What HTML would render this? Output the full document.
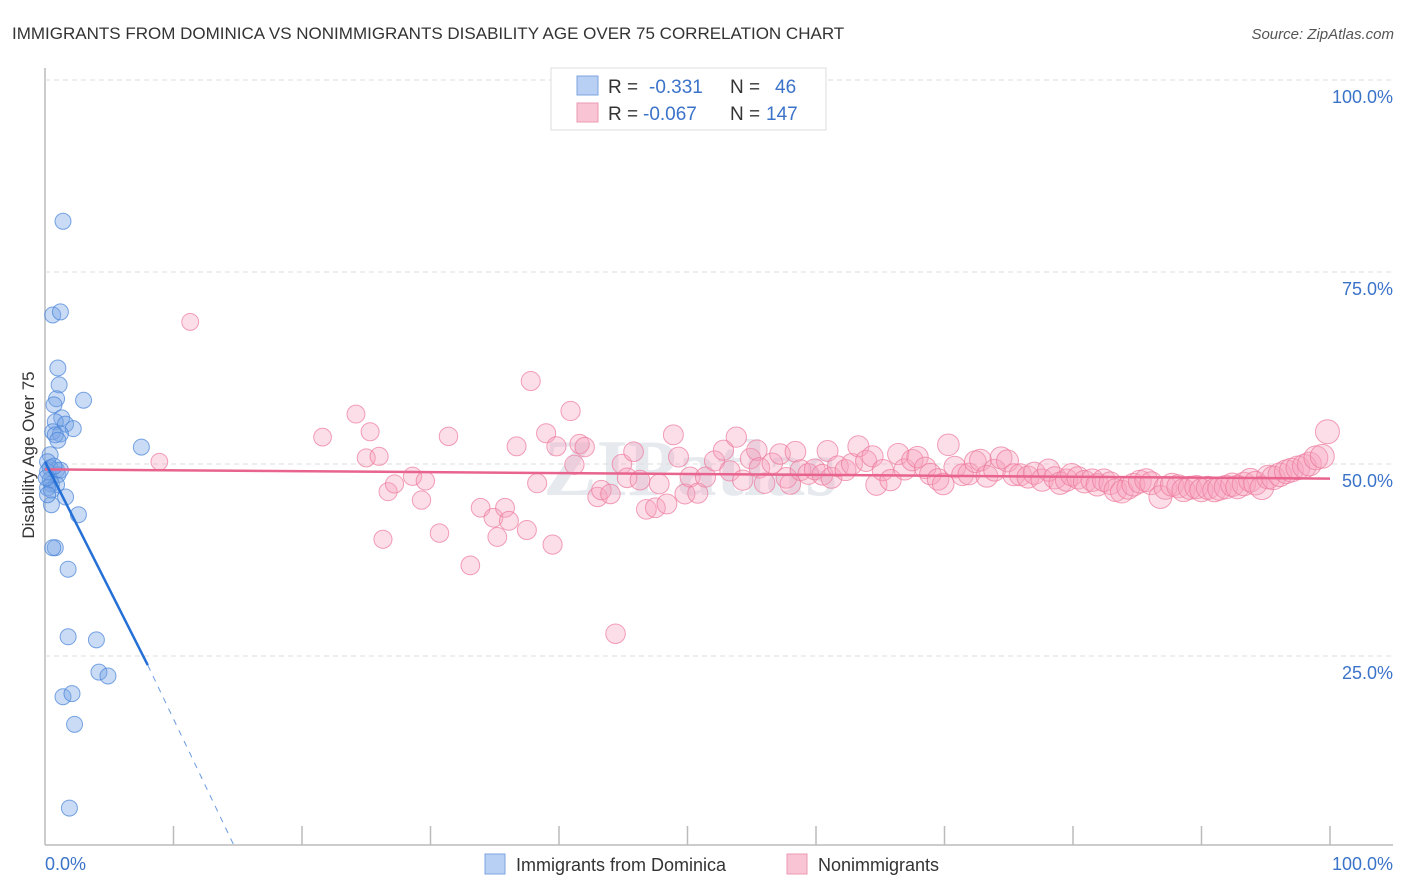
<!DOCTYPE html>
<html><head><meta charset="utf-8"><style>
body{margin:0;background:#fff;font-family:"Liberation Sans",sans-serif;}
svg{display:block}
</style></head><body>
<svg id="chart" width="1406" height="892">
<text x="12" y="39" font-size="17" fill="#333">IMMIGRANTS FROM DOMINICA VS NONIMMIGRANTS DISABILITY AGE OVER 75 CORRELATION CHART</text>
<text x="1394" y="39" font-size="15" fill="#555" font-style="italic" text-anchor="end">Source: ZipAtlas.com</text>
<text x="690" y="495" font-size="80" fill="#e6e9ee" font-weight="bold" text-anchor="middle" font-family="Liberation Serif,serif">ZIPatlas</text>
<g id="grid"></g>
<g id="marks"></g>
<text transform="translate(34,455) rotate(-90)" font-size="17" fill="#333" text-anchor="middle">Disability Age Over 75</text>
<text x="45" y="870" font-size="18" fill="#3b73c9">0.0%</text>
<text x="1393" y="870" font-size="18" fill="#3b73c9" text-anchor="end">100.0%</text>
<g>
<rect x="551" y="68" width="275" height="62" fill="#fff" stroke="#ddd"/>
<rect x="577" y="76" width="21" height="19" fill="#b7d0f3" stroke="#7ea6e0"/>
<rect x="577" y="103" width="21" height="19" fill="#f9c4d3" stroke="#ec9ab3"/>
<text x="608" y="93" font-size="19" fill="#333">R = </text><text x="649" y="93" font-size="19" fill="#3b73c9">-0.331</text>
<text x="730" y="93" font-size="19" fill="#333">N = </text><text x="775" y="93" font-size="19" fill="#3b73c9">46</text>
<text x="608" y="120" font-size="19" fill="#333">R = </text><text x="643" y="120" font-size="19" fill="#3b73c9">-0.067</text>
<text x="730" y="120" font-size="19" fill="#333">N = </text><text x="766" y="120" font-size="19" fill="#3b73c9">147</text>
</g>
<g>
<rect x="485" y="854" width="20" height="20" fill="#b7d0f3" stroke="#7ea6e0"/>
<text x="516" y="871" font-size="18" fill="#333">Immigrants from Dominica</text>
<rect x="787" y="854" width="20" height="20" fill="#f9c4d3" stroke="#ec9ab3"/>
<text x="818" y="871" font-size="18" fill="#333">Nonimmigrants</text>
</g>
</svg>
<script>
const blueX=[1.4,0.6,1.2,1.0,1.1,0.9,3.0,0.7,1.3,0.8,1.6,2.2,0.6,1.2,0.8,7.5,0.4,0.2,0.4,0.9,0.2,1.0,0.4,0.5,0.9,0.2,1.6,0.5,2.6,0.8,0.6,1.8,1.8,4.0,4.2,4.9,1.4,2.1,2.3,1.9,0.5,0.2,1.2,0.1,0.7,1.0];
const blueY=[81.6,69.4,69.8,62.5,60.3,58.5,58.3,57.7,56.0,55.5,55.2,54.6,54.2,53.9,53.8,52.2,51.2,50.3,49.5,49.2,49.0,48.6,47.9,47.4,47.3,46.9,45.7,44.7,43.4,39.1,39.1,36.3,27.5,27.1,22.9,22.4,19.7,20.1,16.1,5.2,46.6,46.0,49.2,48.2,49.7,53.1];
const pinkX=[11.3,8.9,21.6,24.2,25.3,25.0,26.0,26.3,26.7,27.2,28.6,29.3,29.6,30.7,31.4,33.1,33.9,34.9,35.2,35.8,36.1,36.7,37.5,37.8,38.3,39.0,39.5,39.8,40.9,41.2,41.6,42.0,43.0,43.3,44.0,44.4,44.9,45.3,45.8,46.3,46.8,47.5,47.8,48.4,48.9,49.3,49.8,50.2,50.8,51.4,52.1,52.8,53.3,53.8,54.3,54.9,55.4,55.6,56.0,56.6,57.2,57.7,58.0,58.4,58.8,59.4,59.9,60.5,60.9,61.2,61.7,62.3,62.8,63.3,63.9,64.4,64.7,65.2,65.8,66.4,66.9,67.5,67.9,68.5,68.9,69.5,69.9,70.3,70.8,71.4,71.9,72.4,72.8,73.3,73.9,74.4,74.9,75.4,75.9,76.5,77.0,77.6,78.1,78.6,79.0,79.5,79.9,80.4,80.9,81.5,81.9,82.4,82.9,83.3,83.8,84.3,84.7,85.2,85.7,86.1,86.8,87.2,87.7,88.2,88.6,89.1,89.6,90.0,90.5,91.0,91.4,91.9,92.4,92.8,93.3,93.8,94.2,94.7,95.2,95.6,96.1,96.6,97.0,97.5,98.0,98.4,98.9,99.4,99.8];
const pinkY=[68.5,50.3,53.5,56.5,54.2,50.8,51.0,40.2,46.4,47.4,48.4,45.3,47.8,41.0,53.6,36.8,44.3,43.0,40.5,44.3,42.6,52.3,41.4,60.8,47.5,54.0,39.5,52.3,56.9,49.9,52.6,52.2,45.7,46.6,46.1,27.9,50.0,48.2,51.6,47.9,44.1,44.3,47.4,44.8,53.8,50.9,46.1,48.3,46.2,48.3,50.4,51.8,49.1,53.5,47.9,50.7,51.8,49.5,47.5,50.1,51.3,48.2,47.4,51.6,49.2,48.7,49.3,48.6,51.7,48.2,49.7,49.2,50.0,52.3,50.4,51.0,47.3,49.2,47.9,51.3,49.3,50.5,50.9,49.5,48.7,48.0,47.4,52.5,49.6,48.6,48.7,50.3,50.5,48.4,49.2,50.8,50.4,48.6,48.6,48.3,48.8,47.9,49.2,48.2,47.5,47.9,48.6,48.2,47.7,47.9,47.3,47.9,47.5,46.6,46.4,46.9,47.3,47.7,47.9,47.5,45.7,46.9,47.3,47.1,46.6,46.9,47.0,46.6,46.9,46.6,46.8,47.0,47.3,47.0,47.4,47.9,47.5,46.9,48.3,48.2,48.6,49.0,49.2,49.5,49.7,50.0,50.8,51.0,54.2];
const yTicks=[25,50,75,100];
const yTickLabels=["25.0%","50.0%","75.0%","100.0%"];
const xTicks=[0,10,20,30,40,50,60,70,80,90,100];
const blueTrend=[[0,50.3],[8,23.8],[14.8,0]];
const pinkTrend=[[0,49.3],[100,48.1]];

const NS="http://www.w3.org/2000/svg";
const X=v=>45+v*12.85, Y=v=>848-v*7.68;
function mk(tag,attrs,parent){const e=document.createElementNS(NS,tag);for(const k in attrs)e.setAttribute(k,attrs[k]);parent.appendChild(e);return e;}
const grid=document.getElementById('grid'), marks=document.getElementById('marks');
let ax=mk('line',{x1:45,y1:68,x2:45,y2:845,stroke:'#bbb','stroke-width':1.5},grid);


let bx=mk('line',{x1:45,y1:845,x2:1393,y2:845,stroke:'#bbb','stroke-width':1.5},grid);


yTicks.forEach((t,i)=>{
 const g=mk('line',{x1:45,y1:Y(t),x2:1393,y2:Y(t),stroke:'#ddd','stroke-dasharray':'5,4'},grid);
 
 
 const tx=mk('text',{x:1393,y:Y(t)+23,'font-size':18,fill:'#3b73c9','text-anchor':'end'},grid);
 tx.textContent=yTickLabels[i];
 
 
});
xTicks.forEach(t=>{
 if(t===0)return;
 const l=mk('line',{x1:X(t),y1:826,x2:X(t),y2:845,stroke:'#bbb','stroke-width':1.5},grid);
 
 
});
pinkX.forEach((x,i)=>{
 const r=8+x/100*4;
 const c=mk('circle',{cx:X(x),cy:Y(pinkY[i]),r:(i===pinkX.length-1?12:r),fill:'rgba(246,160,188,0.35)',stroke:'rgba(236,120,155,0.7)','stroke-width':1},marks);
 
 
});
blueX.forEach((x,i)=>{
 const c=mk('circle',{cx:X(x),cy:Y(blueY[i]),r:8,fill:'rgba(120,165,230,0.4)',stroke:'rgba(70,130,215,0.7)','stroke-width':1},marks);
 
 
});
let pl=mk('line',{x1:X(pinkTrend[0][0]),y1:Y(pinkTrend[0][1]),x2:X(pinkTrend[1][0]),y2:Y(pinkTrend[1][1]),stroke:'#e8648e','stroke-width':2.5},marks);


let bl=mk('line',{x1:X(blueTrend[0][0]),y1:Y(blueTrend[0][1]),x2:X(blueTrend[1][0]),y2:Y(blueTrend[1][1]),stroke:'#2470d6','stroke-width':2.5},marks);


let bd=mk('line',{x1:X(blueTrend[1][0]),y1:Y(blueTrend[1][1]),x2:X(blueTrend[2][0]),y2:Y(blueTrend[2][1]),stroke:'#6b9be0','stroke-width':1,'stroke-dasharray':'6,6'},marks);


</script>
</body></html>
